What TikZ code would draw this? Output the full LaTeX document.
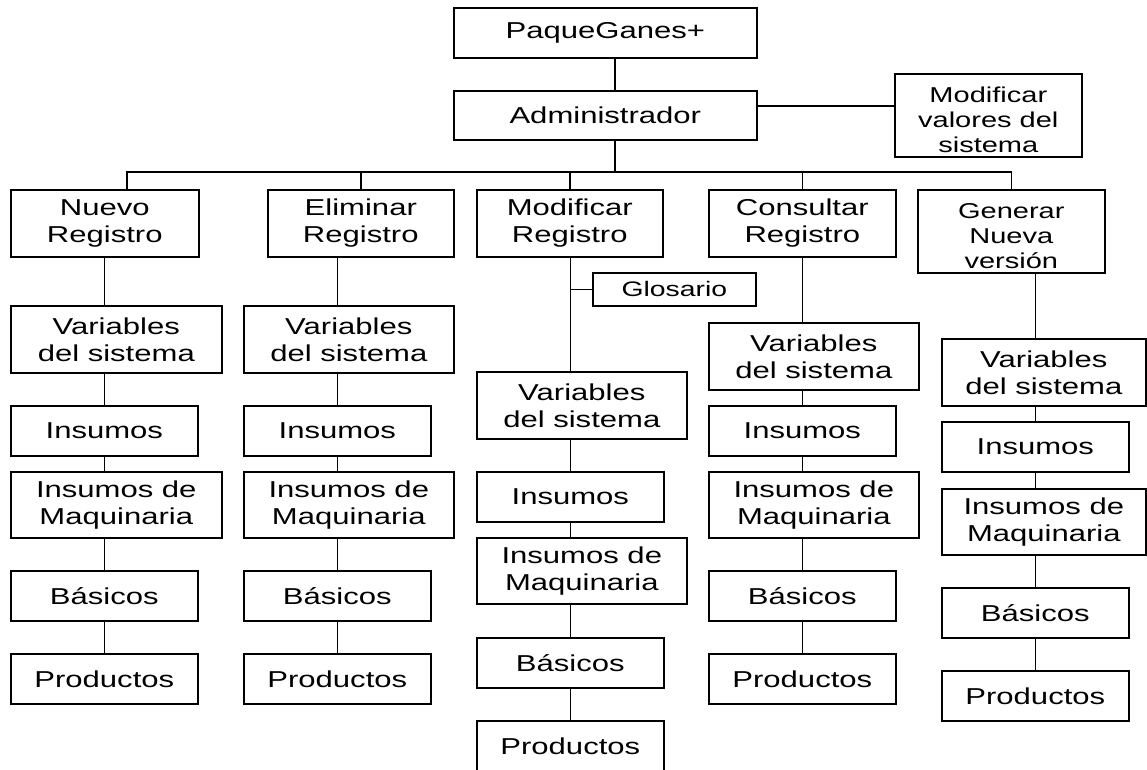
\documentclass[tikz,border=0pt]{standalone}
\usepackage{fontspec}
\setmainfont{Liberation Sans}[FakeStretch=1.35]
\newcommand\grande{\fontsize{23}{27}\selectfont}
\newcommand\chico{\fontsize{21.5}{25}\selectfont}

\begin{document}
\begin{tikzpicture}[x=1pt,y=-1pt,line width=1.6pt,
	caja/.style 2 args={draw,anchor=north west,inner sep=0pt,align=center,
		minimum width=#1,minimum height=#2,font=\grande},
	bajo/.style={font=\chico,text height=75pt}]
	\useasboundingbox (0,0) rectangle (1147,770);
	% arriba
	\node[caja={303}{50}] (paque) at (453,7) {PaqueGanes+};
	\node[caja={303}{49}] (admin) at (453,90) {Administrador};
	\node[caja={187}{83},bajo] (valores) at (894,73) {Modificar\\valores del\\sistema};
	% primer nivel
	\node[caja={188}{67}] (nuevo) at (10,189) {Nuevo\\Registro};
	\node[caja={186}{67}] (elim) at (267,189) {Eliminar\\Registro};
	\node[caja={186}{67}] (modif) at (476,189) {Modificar\\Registro};
	\node[caja={187}{67}] (consul) at (708,189) {Consultar\\Registro};
	\node[caja={187}{83},bajo] (gener) at (917,189) {Generar\\Nueva\\versión};
	\node[caja={163}{33},font=\fontsize{21}{25}\selectfont] (glos) at (592,272) {Glosario};
	% columnas
	\foreach \c/\x/\yv/\yi/\ym/\yb/\yp/\w in {1/10/305/405/471/570/653/211,
		2/243/305/405/471/570/653/210, 3/476/371/471/537/637/720/210,
		4/708/322/405/471/570/653/210, 5/941/338/421/488/587/670/204}
	{
		\node[caja={\w}{67}] (var\c) at (\x,\yv) {Variables\\del sistema};
		\node[caja={187}{50}] (ins\c) at (\x,\yi) {Insumos};
		\node[caja={\w}{66}] (maq\c) at (\x,\ym) {Insumos de\\Maquinaria};
		\node[caja={187}{50}] (bas\c) at (\x,\yb) {Básicos};
		\node[caja={187}{50}] (prod\c) at (\x,\yp) {Productos};
		\draw (var\c.south -| ins\c) -- (ins\c.north);
		\draw (ins\c.south) -- (ins\c.south |- maq\c.north);
		\draw (maq\c.south -| bas\c) -- (bas\c.north);
		\draw (bas\c.south) -- (prod\c.north);
	}
	% conexiones
	\coordinate (bus) at (615,172);
	\coordinate (bajaN) at (127,172);
	\coordinate (ramal) at (0,106);
	\draw (paque.south -| bus) -- (admin.north -| bus);
	\draw (admin.south -| bus) -- (bus);
	\draw (admin.east |- ramal) -- (valores.west |- ramal);
	\draw (bajaN |- nuevo.north) -- (bajaN) -- (gener.north |- bus) -- (gener.north);
	\foreach \n in {elim,modif,consul}
		\draw (\n.north) -- (\n.north |- bus);
	\draw (nuevo.south -| ins1) -- (var1.north -| ins1);
	\draw (elim.south -| ins2) -- (var2.north -| ins2);
	\draw (modif.south -| ins3) -- (var3.north -| ins3);
	\draw (consul.south -| ins4) -- (var4.north -| ins4);
	\draw (gener.south -| ins5) -- (var5.north -| ins5);
	\draw (glos.west) -- (glos.west -| ins3);
\end{tikzpicture}
\end{document}
